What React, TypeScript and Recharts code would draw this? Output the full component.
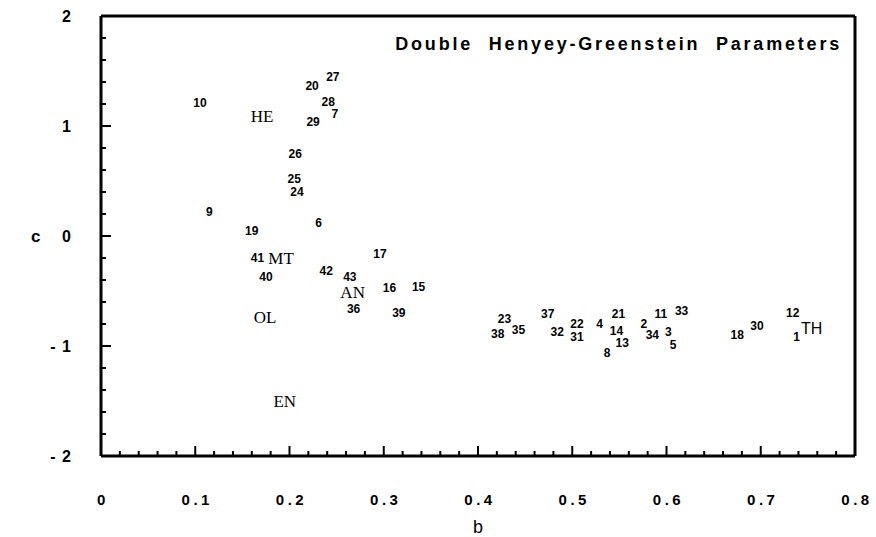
import { Scatter, ScatterChart, XAxis, YAxis } from "recharts";

// numbered samples: id, b (asymmetry), c (backscatter fraction)
const sampleIds = [
  "10", "20", "27", "28", "7", "29", "26", "25", "24", "9", "6", "19",
  "41", "17", "42", "40", "43", "16", "15", "36", "39",
  "23", "38", "35", "37", "32", "22", "31", "4", "21", "14", "13", "8",
  "2", "11", "34", "3", "5", "33", "18", "30", "12", "1",
];
const sampleB = [
  0.105, 0.224, 0.246, 0.241, 0.248, 0.225, 0.206, 0.205, 0.208, 0.115, 0.231, 0.160,
  0.166, 0.296, 0.239, 0.175, 0.264, 0.306, 0.337, 0.268, 0.316,
  0.428, 0.421, 0.443, 0.474, 0.484, 0.505, 0.505, 0.529, 0.549, 0.547, 0.553, 0.537,
  0.576, 0.594, 0.585, 0.602, 0.607, 0.616, 0.675, 0.696, 0.734, 0.738,
];
const sampleC = [
  1.21, 1.36, 1.45, 1.22, 1.11, 1.04, 0.75, 0.52, 0.40, 0.22, 0.12, 0.05,
  -0.20, -0.16, -0.32, -0.37, -0.37, -0.47, -0.46, -0.66, -0.70,
  -0.75, -0.89, -0.85, -0.71, -0.87, -0.80, -0.92, -0.80, -0.71, -0.86, -0.97, -1.06,
  -0.80, -0.71, -0.90, -0.87, -0.99, -0.68, -0.90, -0.82, -0.70, -0.92,
];

// class tags placed among the samples
const groupNames = ["HE", "MT", "AN", "OL", "EN", "TH"];
const groupB = [0.171, 0.191, 0.267, 0.174, 0.195, 0.754];
const groupC = [1.09, -0.2, -0.51, -0.74, -1.5, -0.84];

const xMajor = [0, 0.1, 0.2, 0.3, 0.4, 0.5, 0.6, 0.7, 0.8];
const xTickLabels = ["0", "0.1", "0.2", "0.3", "0.4", "0.5", "0.6", "0.7", "0.8"];
const yMajor = [-2, -1, 0, 1, 2];
const yTickLabels = ["- 2", "- 1", "0", "1", "2"];

const title = "Double  Henyey-Greenstein  Parameters";

// five minor steps between each pair of major ticks
function subdivide(major: number[]) {
  const out: number[] = [];
  for (let i = 0; i < major.length - 1; i++) {
    const step = (major[i + 1] - major[i]) / 5;
    for (let k = 0; k < 5; k++) out.push(+(major[i] + k * step).toFixed(4));
  }
  out.push(major[major.length - 1]);
  return out;
}
const xTicks = subdivide(xMajor);
const yTicks = subdivide(yMajor);

const majorIndex = (v: number, major: number[]) =>
  major.findIndex((m) => Math.abs(m - v) < 1e-6);

const samples = sampleIds.map((id, i) => ({ b: sampleB[i], c: sampleC[i], id }));
const groups = groupNames.map((id, i) => ({ b: groupB[i], c: groupC[i], id }));

const INK = "#000";
const sans = "'Liberation Sans', Arial, sans-serif";

function BottomTick({ x, y, payload }: any) {
  const idx = majorIndex(payload.value, xMajor);
  return (
    <g>
      <line x1={x} x2={x} y1={y} y2={y - (idx >= 0 ? 10 : 5)} stroke={INK} strokeWidth={2} />
      {idx >= 0 && (
        <text
          x={x + 2}
          y={y + 43}
          textAnchor="middle"
          dominantBaseline="central"
          fontFamily={sans}
          fontWeight="bold"
          fontSize={15}
          letterSpacing={3.5}
          fill={INK}
        >
          {xTickLabels[idx]}
        </text>
      )}
    </g>
  );
}

function TopTick({ x, y, payload }: any) {
  const major = majorIndex(payload.value, xMajor) >= 0;
  return <line x1={x} x2={x} y1={y} y2={y + (major ? 10 : 5)} stroke={INK} strokeWidth={2} />;
}

function LeftTick({ x, y, payload }: any) {
  const idx = majorIndex(payload.value, yMajor);
  return (
    <g>
      <line x1={x} x2={x + (idx >= 0 ? 10 : 5)} y1={y} y2={y} stroke={INK} strokeWidth={2} />
      {idx >= 0 && (
        <text
          x={x - 29}
          y={y}
          textAnchor="end"
          dominantBaseline="central"
          fontFamily={sans}
          fontWeight="bold"
          fontSize={16}
          letterSpacing={1}
          fill={INK}
        >
          {yTickLabels[idx]}
        </text>
      )}
    </g>
  );
}

function RightTick({ x, y, payload }: any) {
  const major = majorIndex(payload.value, yMajor) >= 0;
  return <line x1={x} x2={x - (major ? 10 : 5)} y1={y} y2={y} stroke={INK} strokeWidth={2} />;
}

function SampleLabel(p: any) {
  return (
    <text
      x={p.cx}
      y={p.cy}
      textAnchor="middle"
      dominantBaseline="central"
      fontFamily={sans}
      fontWeight="bold"
      fontSize={12}
      fill={INK}
    >
      {p.payload.id}
    </text>
  );
}

function GroupLabel(p: any) {
  const isSans = p.payload.id === "TH";
  return (
    <text
      x={p.cx}
      y={p.cy}
      textAnchor="middle"
      dominantBaseline="central"
      fontFamily={isSans ? sans : "'Liberation Serif', 'Times New Roman', serif"}
      fontSize={isSans ? 16 : 17}
      fill={INK}
    >
      {p.payload.id}
    </text>
  );
}

export default function App() {
  const axisLine = { stroke: INK, strokeWidth: 3 };
  return (
    <div style={{ position: "absolute", left: 0, top: 0, width: 876, height: 537, background: "#fff" }}>
      <ScatterChart width={876} height={537} margin={{ top: 0, right: 0, bottom: 0, left: 0 }}>
        <XAxis
          dataKey="b"
          type="number"
          domain={[0, 0.8]}
          ticks={xTicks}
          interval={0}
          height={81}
          tickSize={0}
          tickMargin={0}
          axisLine={axisLine}
          tickLine={false}
          tick={<BottomTick />}
          label={{ value: "b", position: "insideBottom", offset: 4, fontSize: 18, fill: INK, fontFamily: sans }}
        />
        <XAxis
          xAxisId="top"
          orientation="top"
          dataKey="b"
          type="number"
          domain={[0, 0.8]}
          ticks={xTicks}
          interval={0}
          height={16}
          tickSize={0}
          tickMargin={0}
          axisLine={axisLine}
          tickLine={false}
          tick={<TopTick />}
        />
        <YAxis
          dataKey="c"
          type="number"
          domain={[-2, 2]}
          ticks={yTicks}
          interval={0}
          width={101}
          tickSize={0}
          tickMargin={0}
          axisLine={axisLine}
          tickLine={false}
          tick={<LeftTick />}
          label={{ value: "c", position: "insideLeft", offset: 31, fontSize: 17, fontWeight: "bold", fill: INK, fontFamily: sans }}
        />
        <YAxis
          yAxisId="right"
          orientation="right"
          dataKey="c"
          type="number"
          domain={[-2, 2]}
          ticks={yTicks}
          interval={0}
          width={21}
          tickSize={0}
          tickMargin={0}
          axisLine={axisLine}
          tickLine={false}
          tick={<RightTick />}
        />
        <Scatter data={samples} shape={SampleLabel} isAnimationActive={false} />
        <Scatter data={groups} shape={GroupLabel} isAnimationActive={false} />
        <text
          x={842}
          y={44}
          textAnchor="end"
          dominantBaseline="central"
          fontFamily={sans}
          fontWeight="bold"
          fontSize={18}
          letterSpacing={2.8}
          style={{ whiteSpace: "pre" }}
          fill={INK}
        >
          {title}
        </text>
      </ScatterChart>
    </div>
  );
}
